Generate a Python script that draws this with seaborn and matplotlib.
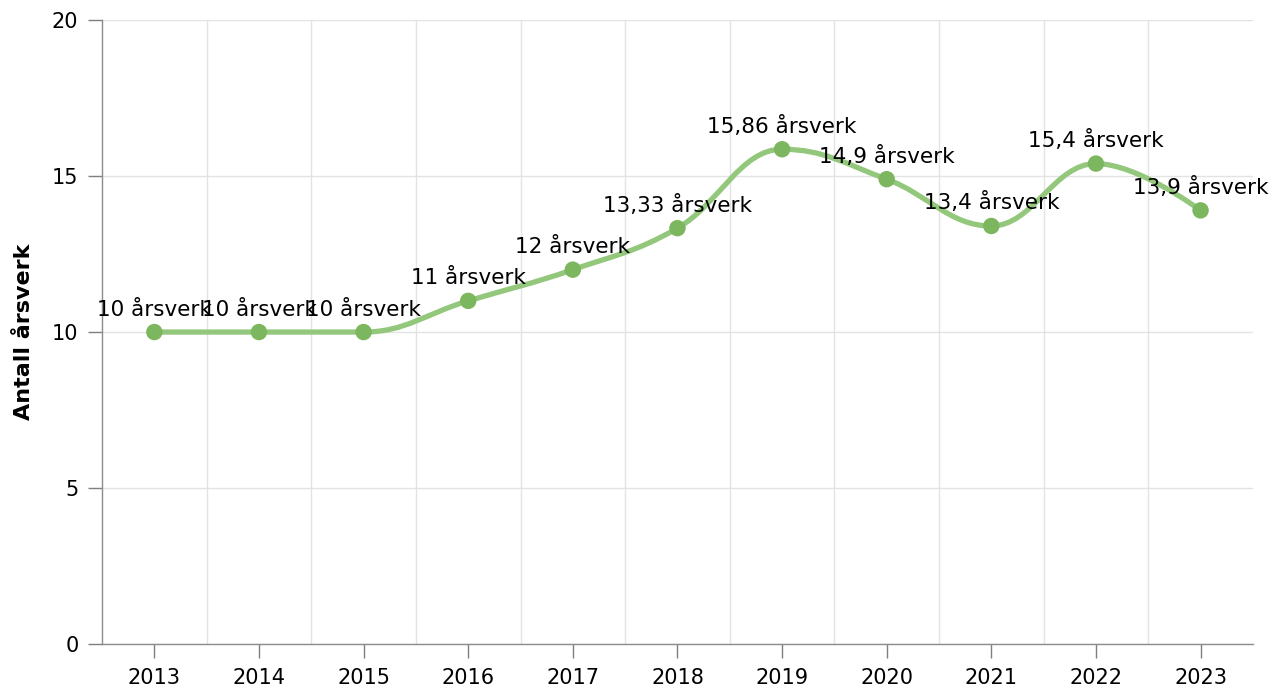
import numpy as np
import pandas as pd
import seaborn as sns
import matplotlib.pyplot as plt
from matplotlib.path import Path
from matplotlib.patches import PathPatch

years = ["2013", "2014", "2015", "2016", "2017", "2018", "2019", "2020", "2021", "2022", "2023"]
aarsverk = [10, 10, 10, 11, 12, 13.33, 15.86, 14.9, 13.4, 15.4, 13.9]
etiketter = ["10 årsverk", "10 årsverk", "10 årsverk", "11 årsverk", "12 årsverk", "13,33 årsverk",
             "15,86 årsverk", "14,9 årsverk", "13,4 årsverk", "15,4 årsverk", "13,9 årsverk"]

df = pd.DataFrame({"pos": range(len(years)), "verdi": aarsverk})

linje_farge = "#93c77b"
punkt_farge = "#7cb65f"


def spline_sti(xs, ys, smoothing=1.5):
    # kontrollpunkter som i en vanlig "spline"-serie
    n = len(xs)
    venstre = [None] * n
    hoyre = [None] * n
    d = smoothing + 1
    for i in range(1, n - 1):
        lx = (smoothing * xs[i] + xs[i - 1]) / d
        ly = (smoothing * ys[i] + ys[i - 1]) / d
        rx = (smoothing * xs[i] + xs[i + 1]) / d
        ry = (smoothing * ys[i] + ys[i + 1]) / d
        korr = (ry - ly) * (rx - xs[i]) / (rx - lx) + ys[i] - ry
        ly += korr
        ry += korr
        if ly > ys[i - 1] and ly > ys[i]:
            ly = max(ys[i - 1], ys[i])
            ry = 2 * ys[i] - ly
        elif ly < ys[i - 1] and ly < ys[i]:
            ly = min(ys[i - 1], ys[i])
            ry = 2 * ys[i] - ly
        if ry > ys[i + 1] and ry > ys[i]:
            ry = max(ys[i + 1], ys[i])
            ly = 2 * ys[i] - ry
        elif ry < ys[i + 1] and ry < ys[i]:
            ry = min(ys[i + 1], ys[i])
            ly = 2 * ys[i] - ry
        venstre[i] = (lx, ly)
        hoyre[i] = (rx, ry)
    verts = [(xs[0], ys[0])]
    koder = [Path.MOVETO]
    for i in range(1, n):
        c1 = hoyre[i - 1] or (xs[i - 1], ys[i - 1])
        c2 = venstre[i] or (xs[i], ys[i])
        verts += [c1, c2, (xs[i], ys[i])]
        koder += [Path.CURVE4] * 3
    return Path(verts, koder)


sns.set_theme(style="white")
plt.rcParams['font.family'] = ['DejaVu Sans']

fig = plt.figure(figsize=(12.85, 6.93), dpi=100)
ax = fig.add_axes([0.0794, 0.0707, 0.8956, 0.9003])

sti = spline_sti(list(df["pos"]), list(df["verdi"]))
ax.add_patch(PathPatch(sti, facecolor="none", edgecolor=linje_farge, lw=3.8, capstyle="round", zorder=2))
sns.scatterplot(data=df, x="pos", y="verdi", color=punkt_farge, s=140, edgecolor="none", zorder=3, ax=ax)

for x, y, t in zip(df["pos"], df["verdi"], etiketter):
    ax.annotate(t, (x, y), xytext=(0, 9), textcoords="offset points",
                ha="center", va="bottom", fontsize=15.5, color="black", zorder=4)

ax.set_xlim(-0.5, len(years) - 0.5)
ax.set_ylim(0, 20)
ax.set_xticks(range(len(years)))
ax.set_xticklabels(years)
ax.set_xticks(np.arange(0.5, len(years) - 0.5, 1), minor=True)
ax.set_yticks([0, 5, 10, 15, 20])
ax.grid(which="minor", axis="x", color="#e3e3e3", lw=1)
ax.grid(which="major", axis="y", color="#e3e3e3", lw=1)
ax.grid(which="major", axis="x", visible=False)
ax.set_axisbelow(True)

ax.tick_params(axis="both", which="major", labelsize=15, colors="#7f7f7f", labelcolor="black",
               length=10, width=1, left=True, bottom=True, pad=7)
ax.tick_params(axis="x", which="minor", length=0)

for s in ["top", "right"]:
    ax.spines[s].set_visible(False)
for s in ["left", "bottom"]:
    ax.spines[s].set_color("#8c8c8c")
    ax.spines[s].set_linewidth(1)

ax.set_xlabel("")
ax.set_ylabel("Antall årsverk", fontsize=16, fontweight="bold", color="black")
ax.yaxis.set_label_coords(-0.059, 0.5)

fig.savefig("out.png", dpi=100)
